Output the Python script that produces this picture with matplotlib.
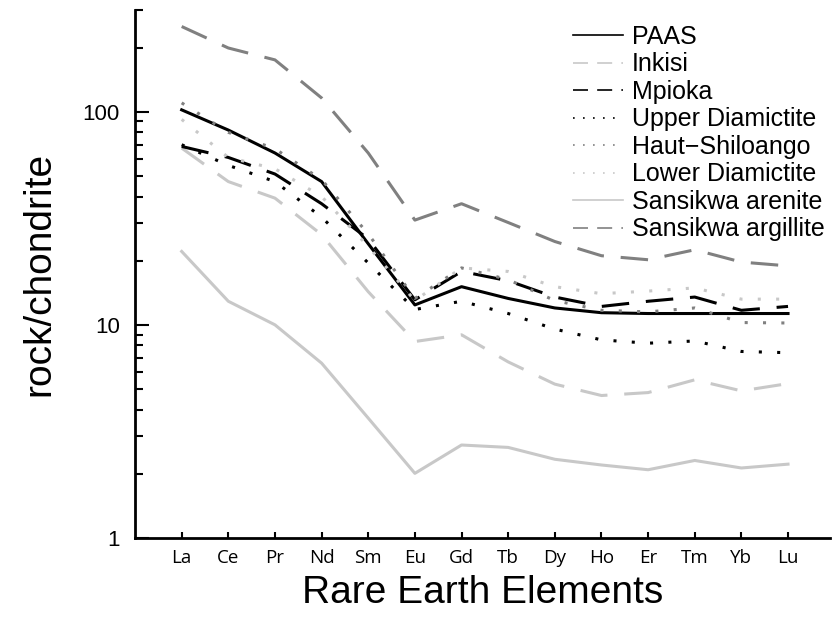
import numpy as np
import matplotlib.pyplot as plt
from matplotlib.ticker import LogLocator, NullFormatter


# =========================================================
# DATA (chondrite normalised REE)
# =========================================================

elements = ["La", "Ce", "Pr", "Nd", "Sm", "Eu", "Gd",
            "Tb", "Dy", "Ho", "Er", "Tm", "Yb", "Lu"]

paas = [102, 82, 64, 47, 24, 12.4, 15.1, 13.3, 12.0, 11.4, 11.3, 11.3, 11.3, 11.3]
inkisi = [67.5, 47, 39.3, 26.5, 14.3, 8.35, 8.98, 6.7, 5.27, 4.66, 4.81, 5.52, 4.9, 5.3]
mpioka = [68.7, 61, 51, 37, 25.3, 13.1, 17.8, 16.1, 13.5, 12.2, 12.9, 13.5, 11.7, 12.2]
upper_diamictite = [70, 56, 47, 32, 19.5, 11.8, 12.9, 11.3, 9.55, 8.5, 8.2, 8.4, 7.5, 7.4]
haut_shiloango = [110, 80, 67, 48, 26.7, 13.3, 18.5, 16.3, 13.0, 11.7, 11.5, 12.0, 10.25, 10.2]
lower_diamictite = [92, 61, 54, 40, 23.3, 13.0, 18.5, 17.8, 15.1, 14.0, 14.4, 14.9, 13.2, 13.2]
sansikwa_arenite = [22.1, 12.9, 10.0, 6.61, 3.65, 2.01, 2.73, 2.66, 2.34, 2.20, 2.09, 2.31, 2.13, 2.22]
sansikwa_argillite = [251, 199, 175, 116, 64, 31, 37, 30.2, 24.6, 21.1, 20.2, 22.5, 19.7, 18.9]

LIGHT = "#c8c8c8"
DARK = "#808080"

series = [
    ("PAAS", paas, "black", "solid"),
    ("Inkisi", inkisi, LIGHT, (0, (9, 5.5))),
    ("Mpioka", mpioka, "black", (0, (9, 5.5))),
    ("Upper Diamictite", upper_diamictite, "black", (0, (1, 5))),
    ("Haut\u2212Shiloango", haut_shiloango, DARK, (0, (1, 5))),
    ("Lower Diamictite", lower_diamictite, LIGHT, (0, (1, 5))),
    ("Sansikwa arenite", sansikwa_arenite, LIGHT, "solid"),
    ("Sansikwa argillite", sansikwa_argillite, DARK, (0, (9, 5.5))),
]


# =========================================================
# PLOT
# =========================================================

plt.rcParams["font.family"] = ["Liberation Sans", "DejaVu Sans"]

fig = plt.figure(figsize=(8.32, 6.21), dpi=100)
ax = fig.add_axes([0.1623, 0.1337, 0.8353, 0.8502])

x = np.arange(len(elements))

for name, vals, color, ls in series:
    ax.plot(x, vals, color=color, linestyle=ls, linewidth=2.2,
            label=name, dash_capstyle="butt")

ax.set_yscale("log")
ax.set_ylim(1, 300)
ax.set_xlim(-1, 13.9)

ax.set_yticks([1, 10, 100], labels=["1", "10", "100"])
ax.yaxis.set_minor_locator(LogLocator(base=10, subs=np.arange(2, 10)))
ax.yaxis.set_minor_formatter(NullFormatter())

ax.set_xticks(x, labels=elements)
for lab in ax.get_xticklabels():
    lab.set_fontfamily(["Open Sans", "DejaVu Sans"])
    lab.set_fontsize(13.5)

ax.tick_params(axis="y", which="major", direction="in", length=10,
               width=1.5, labelsize=16, pad=11)
ax.tick_params(axis="y", which="minor", direction="in", length=5.5, width=1.5)
ax.tick_params(axis="x", direction="in", length=4, width=1.5, pad=8)

for side in ["top", "right"]:
    ax.spines[side].set_visible(False)
for side in ["left", "bottom"]:
    ax.spines[side].set_linewidth(2)

ax.set_ylabel("rock/chondrite", fontsize=28, labelpad=18)
ax.set_xlabel("Rare Earth Elements", fontsize=28, labelpad=6)

leg = ax.legend(loc="upper left", bbox_to_anchor=(0.63, 0.972),
                frameon=False, fontsize=18, borderpad=0,
                borderaxespad=0, labelspacing=0.14,
                handlelength=2.0, handletextpad=0.35)
for h in leg.get_lines():
    h.set_linewidth(1.2)

fig.savefig("out.png", dpi=100)
plt.close(fig)
